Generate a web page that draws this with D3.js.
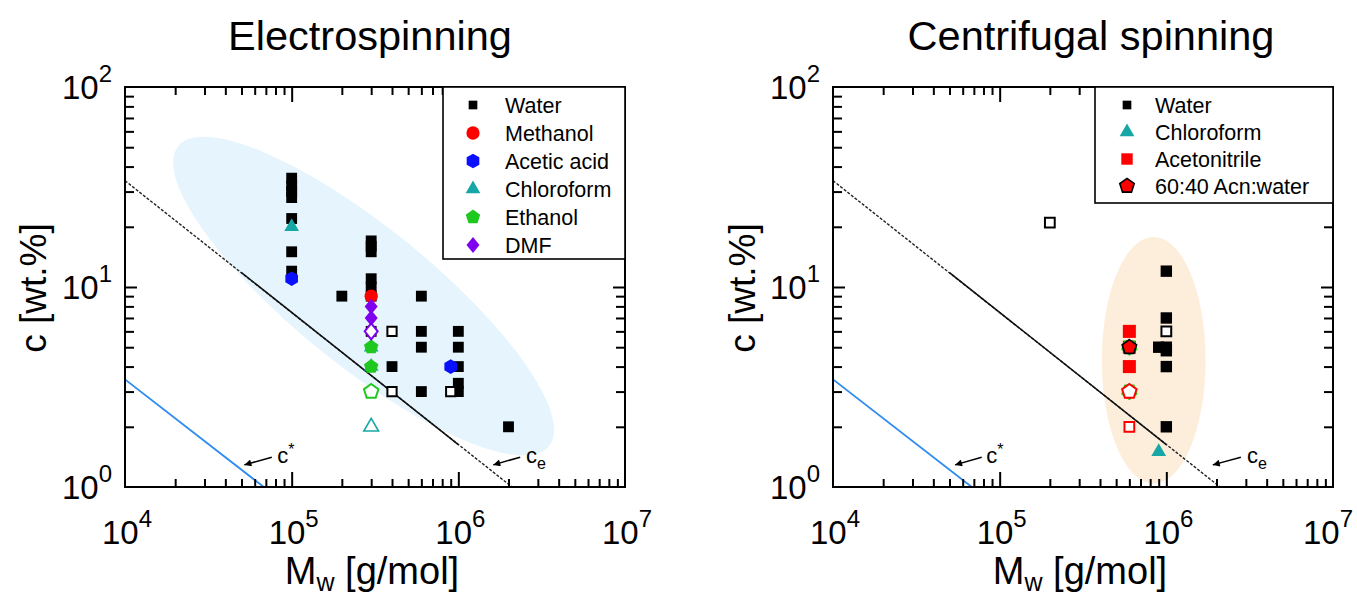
<!DOCTYPE html>
<html>
<head>
<meta charset="utf-8">
<script src="https://cdnjs.cloudflare.com/ajax/libs/d3/7.8.5/d3.min.js"></script>
<style>
body { margin: 0; background: #fff; }
svg { font-family: "Liberation Sans", Arial, sans-serif; }
</style>
</head>
<body>
<svg id="chart" width="1357" height="595"></svg>
<script>
// ---- data: [Mw g/mol, c wt.%] ----
var esWater = [[1e5,35],[1e5,32],[1e5,30],[1e5,28],[1e5,22],[1e5,15],[1e5,12],[2e5,9],
  [3e5,17],[3e5,16],[3e5,15],[3e5,11],[3e5,10],[3e5,9],[3e5,6],[4e5,4],
  [6e5,9],[6e5,6],[6e5,5],[6e5,3],[1e6,6],[1e6,5],[1e6,4],[1e6,3.3],[1e6,3],[2e6,2]];
var esWaterOpen = [[4e5,6],[4e5,3],[9e5,3]];
var esMethanol = [[3e5,9]];
var esAcetic = [[1e5,11],[9e5,4]];
var esChloro = [[1e5,20],[3e5,5],[3e5,4]];
var esChloroOpen = [[3e5,2]];
var esEthanol = [[3e5,5],[3e5,4]];
var esEthanolOpen = [[3e5,3]];
var esDMF = [[3e5,8],[3e5,7]];
var esDMFOpen = [[3e5,6]];

var csWater = [[1e6,12],[1e6,7],[9e5,5],[1e6,5],[1e6,4.8],[1e6,4],[1e6,2]];
var csWaterOpen = [[2e5,21],[1e6,6]];
var csChloro = [[9e5,1.5]];
var csAcn = [[6e5,6],[6e5,5],[6e5,4]];
var csAcnOpen = [[6e5,2]];
var csMix = [[6e5,5]];
var csMixOpen = [[6e5,3]];

// c_e and c* lines
var ceDashed = [[1e4,34],[2.1e6,1]];
var ceSolid = [[5e4,11.8],[1e6,1.63]];
var cStar = [[1e4,3.45],[6.8e4,1]];

// shaded regions
var esRegion = {centre:[2.7e5,9.0], tip:[3.5e6,1.6], ratio:0.29};
var csRegion = {centre:[8.4e5,4.3], top:17.8, left:4.1e5};

// annotations: [tail, tip, text pos]
var esAnnot = {star:[[7.6e4,1.41],[5.2e4,1.29],[8.2e4,1.32]], ce:[[2.35e6,1.41],[1.62e6,1.29],[2.55e6,1.32]]};
var csAnnot = {star:[[7.8e4,1.41],[5.4e4,1.29],[8.3e4,1.32]], ce:[[2.8e6,1.41],[1.9e6,1.29],[3.05e6,1.32]]};

var xMajor = [1e4,1e5,1e6,1e7];
var yMajor = [1,10,100];
var xExp = ["4","5","6","7"];
var yExp = ["0","1","2"];

var esLegend = ["Water","Methanol","Acetic acid","Chloroform","Ethanol","DMF"];
var csLegend = ["Water","Chloroform","Acetonitrile","60:40 Acn:water"];

var svg = d3.select("#chart");

var defs = svg.append("defs");
defs.append("marker").attr("id","arr").attr("viewBox","0 0 10 10")
  .attr("refX",10).attr("refY",5).attr("markerWidth",10).attr("markerHeight",7)
  .attr("markerUnits","userSpaceOnUse").attr("orient","auto")
  .append("path").attr("d","M0,0L10,5L0,10Z").attr("fill","#000");

function poly(n, r, rot) {
  var p = [];
  for (var i = 0; i < n; i++) {
    var a = rot + i * 2 * Math.PI / n - Math.PI / 2;
    p.push([r * Math.cos(a), r * Math.sin(a)]);
  }
  return "M" + p.join("L") + "Z";
}
function shape(t, big) {
  var k = big || 1;
  if (t == "square") return d3.symbol(d3.symbolSquare, 118 * k * k)();
  if (t == "circle") return d3.symbol(d3.symbolCircle, Math.PI * 44)();
  if (t == "triangle") return poly(3, 8.5, 0);
  if (t == "diamond") return "M0,-8L6.5,0L0,8L-6.5,0Z";
  if (t == "pentagon") return poly(5, 7.6, 0);
  if (t == "hexagon") return poly(6, 7.3, 0);
}

function drawPanel(o) {
  var x = d3.scaleLog().domain([1e4,1e7]).range([o.left, o.left + 500]);
  var y = d3.scaleLog().domain([1,100]).range([487, 87]);
  var cid = "clip" + o.id;
  defs.append("clipPath").attr("id", cid).append("rect")
    .attr("x", o.left).attr("y", 87).attr("width", 500).attr("height", 400);
  var g = svg.append("g");
  var plot = g.append("g").attr("clip-path", "url(#" + cid + ")");

  // shaded region
  if (o.region.tip) {
    var cx = x(o.region.centre[0]), cy = y(o.region.centre[1]);
    var tx = x(o.region.tip[0]), ty = y(o.region.tip[1]);
    var a = Math.hypot(tx - cx, ty - cy);
    var ang = Math.atan2(ty - cy, tx - cx) * 180 / Math.PI;
    plot.append("ellipse").attr("cx", cx).attr("cy", cy).attr("rx", a).attr("ry", a * o.region.ratio)
      .attr("transform", "rotate(" + ang + "," + cx + "," + cy + ")").attr("fill", "#e6f5fd");
  } else {
    var cx2 = x(o.region.centre[0]), cy2 = y(o.region.centre[1]);
    plot.append("ellipse").attr("cx", cx2).attr("cy", cy2)
      .attr("rx", cx2 - x(o.region.left)).attr("ry", cy2 - y(o.region.top)).attr("fill", "#fdeedc");
  }

  var line = d3.line().x(function(d){ return x(d[0]); }).y(function(d){ return y(d[1]); });
  plot.append("path").attr("d", line(ceDashed)).attr("fill","none").attr("stroke","#222")
    .attr("stroke-width",1.4).attr("stroke-dasharray","3,1.6");
  plot.append("path").attr("d", line(ceSolid)).attr("fill","none").attr("stroke","#111").attr("stroke-width",1.5);
  plot.append("path").attr("d", line(cStar)).attr("fill","none").attr("stroke","#2f8cf0").attr("stroke-width",1.8);

  // annotations
  [["star","*","super"],["ce","e","sub"]].forEach(function(an) {
    var p = o.annot[an[0]];
    g.append("line").attr("x1", x(p[0][0])).attr("y1", y(p[0][1])).attr("x2", x(p[1][0])).attr("y2", y(p[1][1]))
      .attr("stroke","#000").attr("stroke-width",1.5).attr("marker-end","url(#arr)");
    var t = g.append("text").attr("x", x(p[2][0])).attr("y", y(p[2][1])).attr("font-size", 22).text("c");
    if (an[2] == "super") t.append("tspan").attr("dy", -8).attr("font-size", 16).text(an[1]);
    else t.append("tspan").attr("dy", 6).attr("font-size", 16).text(an[1]);
  });

  // points
  o.series.forEach(function(s) {
    if (s.under) {
      plot.selectAll(null).data(s.data).enter().append("path")
        .attr("d", poly(5, 8.6, Math.PI / 5))
        .attr("transform", function(d){ return "translate(" + x(d[0]) + "," + y(d[1]) + ")"; })
        .attr("fill", "#22cc22");
    }
    plot.selectAll(null).data(s.data).enter().append("path")
      .attr("d", shape(s.shape, s.big))
      .attr("transform", function(d){ return "translate(" + x(d[0]) + "," + y(d[1]) + ")"; })
      .attr("fill", s.fill).attr("stroke", s.stroke || "none").attr("stroke-width", s.sw || 2);
  });

  // ticks on four sides
  var xMinor = [], yMinor = [];
  [1e4,1e5,1e6].forEach(function(d){ for (var k = 2; k < 10; k++) xMinor.push(d * k); });
  [1,10].forEach(function(d){ for (var k = 2; k < 10; k++) yMinor.push(d * k); });
  function ax(gen, vals, len, tr) {
    var a = g.append("g").attr("transform", tr).call(gen.tickValues(vals).tickSize(-len).tickFormat(""));
    a.select(".domain").remove();
    a.selectAll("line").attr("stroke-width", 2);
  }
  ax(d3.axisBottom(x), xMajor.slice(1,3), 15, "translate(0,487)");
  ax(d3.axisBottom(x), xMinor, 8, "translate(0,487)");
  ax(d3.axisTop(x), xMajor.slice(1,3), 15, "translate(0,87)");
  ax(d3.axisTop(x), xMinor, 8, "translate(0,87)");
  ax(d3.axisLeft(y), yMajor.slice(1,2), 12, "translate(" + o.left + ",0)");
  ax(d3.axisLeft(y), yMinor, 9, "translate(" + o.left + ",0)");
  ax(d3.axisRight(y), yMajor.slice(1,2), 12, "translate(" + (o.left + 500) + ",0)");
  ax(d3.axisRight(y), yMinor, 9, "translate(" + (o.left + 500) + ",0)");

  g.append("rect").attr("x", o.left).attr("y", 87).attr("width", 500).attr("height", 400)
    .attr("fill","none").attr("stroke","#000").attr("stroke-width",2);

  // tick labels (kept inside the page width)
  xMajor.forEach(function(v, i) {
    var t = g.append("text").attr("x", Math.min(x(v) + 2, 1328)).attr("y", 544).attr("text-anchor","middle").attr("font-size", 33).text("10");
    t.append("tspan").attr("dy", -17).attr("font-size", 24).text(xExp[i]);
  });
  yMajor.forEach(function(v, i) {
    var t = g.append("text").attr("x", o.left - 13).attr("y", y(v) + 12).attr("text-anchor","end").attr("font-size", 33).text("10");
    t.append("tspan").attr("dy", -17).attr("font-size", 24).text(yExp[i]);
  });

  // axis titles
  var xt = g.append("text").attr("x", o.left + 247).attr("y", 584).attr("text-anchor","middle").attr("font-size", 38).text("M");
  xt.append("tspan").attr("dy", 7).attr("font-size", 25).text("w");
  xt.append("tspan").attr("dy", -7).text(" [g/mol]");
  g.append("text").attr("transform", "translate(" + o.ytitleX + ",288) rotate(-90)")
    .attr("text-anchor","middle").attr("font-size", 37).text("c [wt.%]");
  g.append("text").attr("x", o.titleX).attr("y", 50).attr("text-anchor","middle").attr("font-size", 41.5).text(o.title);

  // legend
  var lg = g.append("g");
  lg.append("rect").attr("x", o.leg.x).attr("y", 87).attr("width", o.left + 500 - o.leg.x)
    .attr("height", o.leg.h).attr("fill","#fff").attr("stroke","#000").attr("stroke-width",1.6);
  o.legItems.forEach(function(s, i) {
    var yy = 105 + i * o.leg.step;
    lg.append("path").attr("d", shape(s.shape, s.legBig))
      .attr("transform", "translate(" + o.leg.mx + "," + yy + ")")
      .attr("fill", s.fill).attr("stroke", s.stroke || "none").attr("stroke-width", s.sw || 2);
    lg.append("text").attr("x", o.leg.tx).attr("y", yy + 7.5).attr("font-size", 21.5).text(o.legNames[i]);
  });
}

var esSeries = [
  {data: esWater, shape:"square", fill:"#000"},
  {data: esWaterOpen, shape:"square", fill:"#fff", stroke:"#000", big:0.85},
  {data: esChloro, shape:"triangle", fill:"#17a6a6"},
  {data: esChloroOpen, shape:"triangle", fill:"#fff", stroke:"#17a6a6", sw:1.6},
  {data: esMethanol, shape:"circle", fill:"#ff0000"},
  {data: esAcetic, shape:"hexagon", fill:"#0a10ff"},
  {data: esEthanol, shape:"pentagon", fill:"#1fc81f"},
  {data: esEthanolOpen, shape:"pentagon", fill:"#fff", stroke:"#1fc81f"},
  {data: esDMF, shape:"diamond", fill:"#7f00ef"},
  {data: esDMFOpen, shape:"diamond", fill:"#fff", stroke:"#7f00ef"}
];
var esLegItems = [
  {shape:"square", fill:"#000", legBig:0.8},
  {shape:"circle", fill:"#ff0000"},
  {shape:"hexagon", fill:"#0a10ff"},
  {shape:"triangle", fill:"#17a6a6"},
  {shape:"pentagon", fill:"#1fc81f"},
  {shape:"diamond", fill:"#7f00ef"}
];
var csSeries = [
  {data: csWater, shape:"square", fill:"#000", big:1.05},
  {data: csWaterOpen, shape:"square", fill:"#fff", stroke:"#000", big:0.9},
  {data: csChloro, shape:"triangle", fill:"#17a6a6"},
  {data: csAcn, shape:"square", fill:"#ff0000", big:1.2},
  {data: csAcnOpen, shape:"square", fill:"#fff", stroke:"#ff0000", big:0.9},
  {data: csMix, shape:"pentagon", fill:"#ff0000", stroke:"#000", sw:1.6, under:true},
  {data: csMixOpen, shape:"pentagon", fill:"#fff", stroke:"#ff0000", sw:2, under:true}
];
var csLegItems = [
  {shape:"square", fill:"#000", legBig:0.8},
  {shape:"triangle", fill:"#17a6a6"},
  {shape:"square", fill:"#ff0000", legBig:1.05},
  {shape:"pentagon", fill:"#ff0000", stroke:"#000", sw:1.6}
];

drawPanel({id:"es", left:125, title:"Electrospinning", titleX:370, ytitleX:46,
  region: esRegion, annot: esAnnot, series: esSeries,
  leg:{x:443, h:172, step:28, mx:473, tx:505}, legItems: esLegItems, legNames: esLegend});
drawPanel({id:"cs", left:833, title:"Centrifugal spinning", titleX:1091, ytitleX:755,
  region: csRegion, annot: csAnnot, series: csSeries,
  leg:{x:1095, h:116, step:27, mx:1127, tx:1155}, legItems: csLegItems, legNames: csLegend});
</script>
</body>
</html>
